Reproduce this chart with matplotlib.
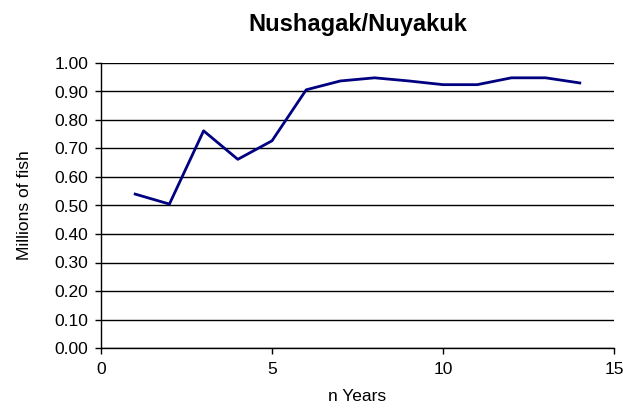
import matplotlib
matplotlib.use('Agg')
import matplotlib.pyplot as plt

years = list(range(1, 15))
fish = [0.540, 0.505, 0.762, 0.662, 0.727, 0.906, 0.937, 0.948,
        0.937, 0.924, 0.924, 0.948, 0.948, 0.930]

plt.rcParams['font.family'] = ['Liberation Sans', 'DejaVu Sans']

fig = plt.figure(figsize=(6.23, 4.11), dpi=100)
ax = fig.add_axes([101/623, 1 - 348/411, (614 - 101)/623, (348 - 63)/411])

ax.plot(years, fish, color='#000080', lw=2)
ax.set_xlim(0, 15)
ax.set_ylim(0, 1.0)
ax.set_xticks([0, 5, 10, 15])
ax.set_yticks([i / 10 for i in range(11)])
ax.set_yticklabels([f"{i/10:.2f}" for i in range(11)])
ax.yaxis.grid(True, color='black', lw=1)
ax.set_axisbelow(True)
for s in ('top', 'right'):
    ax.spines[s].set_visible(False)
ax.spines['left'].set_linewidth(1)
ax.spines['bottom'].set_linewidth(1)
ax.tick_params(direction='out', length=4, width=1, labelsize=12.5, colors='black')
ax.tick_params(axis='y', pad=5)
ax.tick_params(axis='x', pad=6)

ax.set_xlabel('n Years', fontsize=12.5, labelpad=9)
ax.set_ylabel('Millions of fish', fontsize=12.5, labelpad=16)
ax.set_title('Nushagak/Nuyakuk', fontsize=17, weight='bold', pad=23)

fig.savefig('out.png', dpi=100, facecolor='white')
